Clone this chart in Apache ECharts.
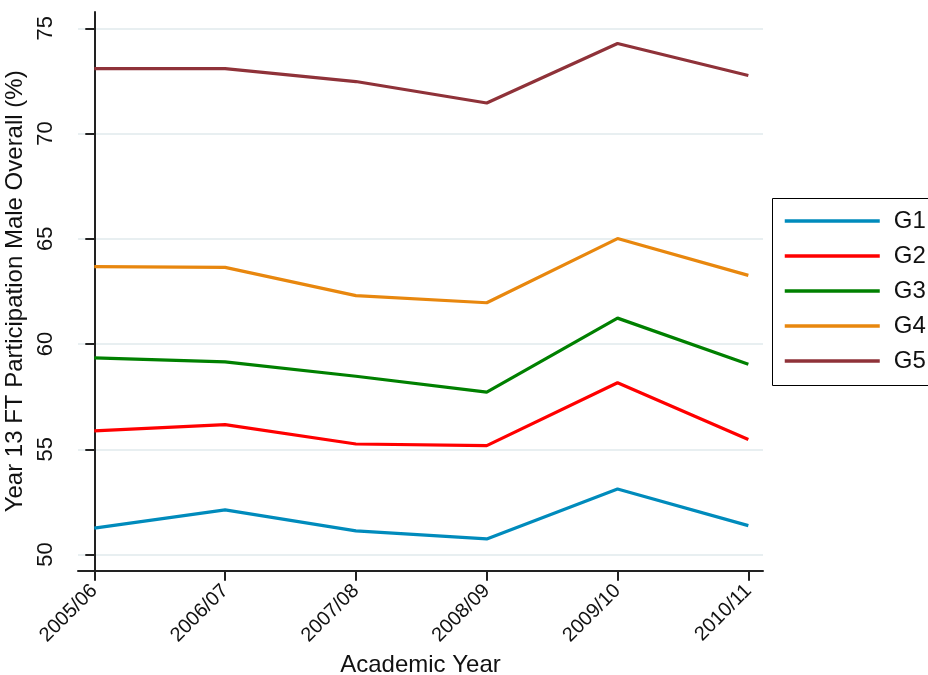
<!DOCTYPE html>
<html>
<head>
<meta charset="utf-8">
<script src="https://cdn.jsdelivr.net/npm/echarts@6/dist/echarts.min.js"></script>
<style>
  html, body { margin: 0; padding: 0; background: #fff; }
  #chart { width: 928px; height: 675px; }
</style>
</head>
<body>
<div id="chart"></div>
<script>
// Academic years on the horizontal axis
const years = ['2005/06', '2006/07', '2007/08', '2008/09', '2009/10', '2010/11'];

// Participation (%) per group
const g1 = [51.25, 52.12, 51.12, 50.74, 53.11, 51.37];
const g2 = [55.87, 56.17, 55.25, 55.17, 58.16, 55.46];
const g3 = [59.34, 59.15, 58.47, 57.71, 61.23, 59.04];
const g4 = [63.68, 63.64, 62.30, 61.96, 65.01, 63.26];
const g5 = [73.08, 73.08, 72.47, 71.45, 74.28, 72.76];

const groupNames = ['G1', 'G2', 'G3', 'G4', 'G5'];
const groupValues = [g1, g2, g3, g4, g5];
const groupColors = ['#008bbc', '#ff0000', '#008000', '#e8870e', '#8f3239'];

// Y axis tick values
const yTicks = [50, 55, 60, 65, 70, 75];

const font = '"Liberation Sans", Arial, sans-serif';
const yearIdx = years.map((_, i) => i);

const chart = echarts.init(document.getElementById('chart'), null, { renderer: 'canvas' });

chart.setOption({
  animation: false,
  backgroundColor: '#ffffff',
  textStyle: { fontFamily: font },
  grid: {
    left: 78, right: 165, top: 12, bottom: 104.3,
    containLabel: false,
    outerBoundsMode: 'none'
  },
  // legend frame runs off the right edge of the canvas
  graphic: [{
    type: 'rect',
    shape: { x: 772.5, y: 198.5, width: 200, height: 187 },
    style: { fill: 'none', stroke: '#000', lineWidth: 1 },
    z: 10
  }],
  legend: {
    orient: 'vertical',
    left: 772,
    top: 198,
    padding: [11, 11, 11, 11],
    itemWidth: 95,
    itemHeight: 24,
    itemGap: 11,
    itemStyle: { opacity: 0 },
    lineStyle: { width: 3.5 },
    textStyle: { fontFamily: font, fontSize: 24, color: '#111', padding: [0, 0, 0, 9] },
    data: groupNames
  },
  xAxis: {
    type: 'value',
    min: -0.1246,
    max: 5.112,
    name: 'Academic Year',
    nameLocation: 'middle',
    nameGap: 78,
    nameTextStyle: { fontFamily: font, fontSize: 24, color: '#111' },
    axisLine: { show: true, onZero: false, lineStyle: { color: '#222', width: 2 } },
    axisTick: { show: true, length: 10, customValues: yearIdx, lineStyle: { color: '#222', width: 2 } },
    axisLabel: {
      customValues: yearIdx,
      rotate: 45,
      margin: 17,
      fontFamily: font,
      fontSize: 20,
      color: '#111',
      formatter: v => years[Math.round(v)]
    },
    splitLine: { show: false }
  },
  yAxis: {
    type: 'value',
    min: 49.23,
    max: 75.774,
    name: 'Year 13 FT Participation Male Overall (%)',
    nameLocation: 'middle',
    nameGap: 44,
    nameTextStyle: { fontFamily: font, fontSize: 24, color: '#111' },
    axisLine: { show: true, lineStyle: { color: '#222', width: 2 } },
    axisTick: { show: true, length: 9, customValues: yTicks, lineStyle: { color: '#222', width: 2 } },
    axisLabel: {
      customValues: yTicks,
      rotate: 90,
      margin: 21,
      fontFamily: font,
      fontSize: 22,
      color: '#111'
    },
    splitLine: { show: true, lineStyle: { color: '#e8eff1', width: 2 } }
  },
  series: groupNames.map((name, k) => ({
    name: name,
    type: 'line',
    symbol: 'none',
    lineStyle: { color: groupColors[k], width: 3.2 },
    itemStyle: { color: groupColors[k] },
    data: groupValues[k].map((v, i) => [yearIdx[i], v])
  }))
});
</script>
</body>
</html>
